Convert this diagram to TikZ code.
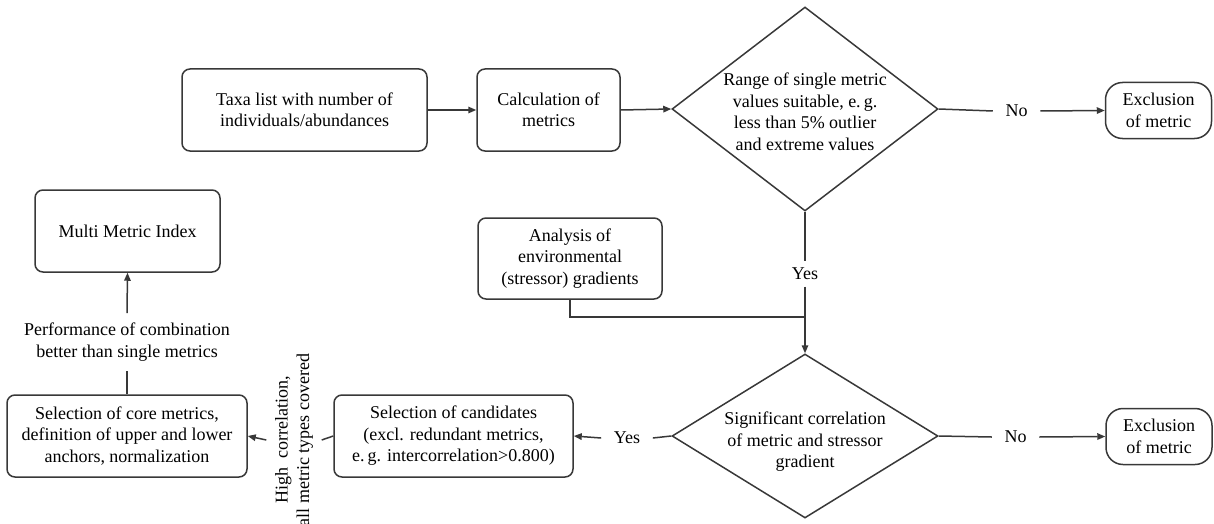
\documentclass[tikz,border=0pt]{standalone}
\usepackage{fontspec}
\setmainfont{Liberation Serif}
\newfontfamily\tnr{Liberation Serif}
\usetikzlibrary{arrows.meta,shapes.geometric}
\begin{document}
\begin{tikzpicture}[x=1pt,y=-1pt,
  font=\tnr\fontsize{18}{21.5}\selectfont,
  line width=1.5pt,
  lc/.style={draw=black!78},
  box/.style={lc, rounded corners=8pt, inner sep=0pt, align=center, minimum height=82pt},
  exbox/.style={lc, rounded corners=17pt, inner sep=0pt, align=center, minimum width=106pt, minimum height=56pt},
  dia/.style={lc, diamond, inner sep=0pt, minimum width=266pt},
  txt/.style={align=center, inner sep=0pt},
  lbl/.style={inner xsep=12pt, inner ysep=6pt},
  arr/.style={lc, -{Triangle[length=8pt,width=6.5pt]}},
]
\useasboundingbox (0,0) rectangle (1214,524);

% top row
\node[box, minimum width=245pt] (taxa) at (304.5,110) {Taxa list with number of\\individuals/abundances};
\node[box, minimum width=143pt] (calc) at (548.5,110) {Calculation of\\metrics};
\node[dia, minimum height=204pt] (d1) at (805,109) {};
\node[txt] at (805,112) {Range of single metric\\values suitable, e.\,g.\\less than 5\% outlier\\and extreme values};
\node[lbl] (no1) at (1016.5,111) {No};
\node[exbox] (ex1) at (1158.5,110.5) {Exclusion\\of metric};

% middle
\node[box, minimum width=184pt, minimum height=81pt] (ana) at (570,258.5) {Analysis of\\environmental\\(stressor) gradients};
\node[lbl] (yes1) at (805,274) {Yes};
\coordinate (j) at (805,317);
\node[box, minimum width=185pt] (mmi) at (127.5,231) {Multi Metric Index};

% bottom row
\node[dia, minimum height=164pt] (d2) at (805,436) {};
\node[txt] at (805,442) {Significant correlation\\of metric and stressor\\gradient};
\node[lbl] (no2) at (1015.5,437) {No};
\node[exbox] (ex2) at (1159,436.5) {Exclusion\\of metric};
\node[lbl] (yes2) at (627,438) {Yes};
\node[box, minimum width=239pt] (cand) at (453.5,436) {Selection of candidates\\(excl. redundant metrics,\\e.\,g. intercorrelation>0.800)};
\node[txt, rotate=90, inner xsep=0pt, inner ysep=8pt] (hc) at (294,440) {High\ \ correlation,\\all metric types covered};
\node[box, minimum width=240pt] (core) at (127,436) {Selection of core metrics,\\definition of upper and lower\\anchors, normalization};
\node[txt, inner ysep=9pt] (perf) at (127,342) {Performance of combination\\better than single metrics};

% connectors
\draw[arr] (taxa.east) -- (calc.west);
\draw[arr] (calc.east) -- (d1.west);
\draw[lc] (d1.east) -- (no1.west);
\draw[arr] (no1.east) -- (ex1.west);
\draw[lc] (d1.south) -- (yes1.north);
\draw[arr] (yes1.south) -- (d2.north);
\draw[lc] (ana.south) |- (j);
\draw[lc] (d2.east) -- (no2.west);
\draw[arr] (no2.east) -- (ex2.west);
\draw[lc] (d2.west) -- (yes2.east);
\draw[arr] (yes2.west) -- (cand.east);
\draw[lc] (cand.west) -- (hc.south);
\draw[arr] (hc.north) -- (core.east);
\draw[lc] (core.north) -- (perf.south);
\draw[arr] (perf.north) -- (mmi.south);
\end{tikzpicture}
\end{document}
